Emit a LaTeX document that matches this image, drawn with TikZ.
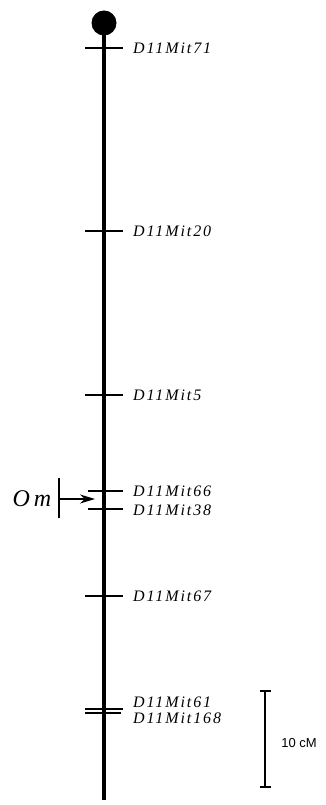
\documentclass[tikz,border=0pt]{standalone}
\usepackage{fontspec}
\setmainfont{Liberation Serif}
\newfontfamily\locusfont[LetterSpace=12]{Liberation Serif}
\newfontfamily\barfont{Liberation Sans}
\usetikzlibrary{arrows.meta}

\begin{document}
\begin{tikzpicture}[x=1pt, y=-1pt, >=Stealth, line join=round,
  locus/.style={line width=1.3pt},
  lbl/.style={anchor=west, inner sep=0pt, font=\locusfont\itshape\fontsize{16}{16}\selectfont}]
  \useasboundingbox (0,0) rectangle (325,805);
  \coordinate (T) at (104,23);
  \coordinate (B) at (104,800);
  \draw[line width=3.2pt] (T) -- (B);
  \fill (T) circle (12.5pt);
  \draw[locus] (85,48) -- (123,48);
  \draw[locus] (85,231) -- (123,231);
  \draw[locus] (85,395) -- (123,395);
  \draw[locus] (88,491) -- (123,491);
  \draw[locus] (88,509) -- (123,509);
  \draw[locus] (85,596) -- (123,596);
  \draw[locus] (85,709) -- (123,709);
  \draw[locus] (85,713) -- (121,713);
  \node[lbl] (m71) at (133,48) {D11Mit71};
  \node[lbl] (m20) at (133,231) {D11Mit20};
  \node[lbl] (m5) at (133,395) {D11Mit5};
  \node[lbl] (m66) at (133,491) {D11Mit66};
  \node[lbl] (m38) at (133,510) {D11Mit38};
  \node[lbl] (m67) at (133,596) {D11Mit67};
  \node[lbl] (m61) at (133,702) {D11Mit61};
  \node[lbl] (m168) at (133,718) {D11Mit168};
  % Om locus
  \node[inner sep=0pt, font=\itshape\fontsize{24}{24}\selectfont] (om) at (32,499) {O\hspace{4pt}m};
  \coordinate (omtop) at (59,478);
  \coordinate (ombot) at (59,518);
  \coordinate (omfrom) at (59,499);
  \coordinate (omto) at (95,499);
  \draw[line width=1.1pt] (omtop) -- (ombot);
  \draw[-{Stealth[length=15pt,width=9pt]}, line width=1.3pt] (omfrom) -- (omto);
  % scale bar
  \coordinate (S1) at (265,691);
  \coordinate (S2) at (265,787);
  \draw[line width=1.3pt] (S1) -- (S2);
  \draw[line width=1.3pt] (259.5,691) -- (271,691);
  \draw[line width=1.3pt] (259.5,787) -- (271,787);
  \node[inner sep=0pt, font=\barfont\fontsize{13}{13}\selectfont] (cm) at (299,743) {10 cM};
\end{tikzpicture}
\end{document}
